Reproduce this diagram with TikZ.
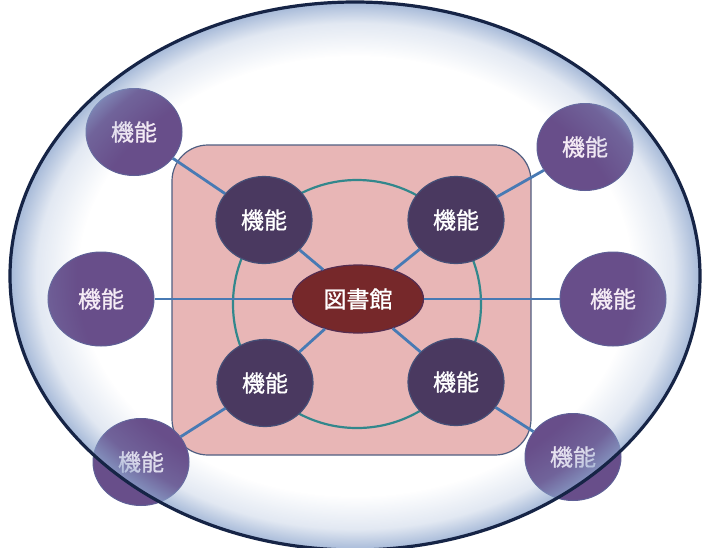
\documentclass[tikz,border=0pt]{standalone}
\usepackage{fontspec}
\newfontfamily\cjk[FakeBold=1]{Noto Sans CJK JP}
\usetikzlibrary{shapes.geometric,fadings}
\definecolor{rimblue}{RGB}{140,165,205}
\definecolor{navy}{RGB}{22,36,70}
\definecolor{pinkfill}{RGB}{232,182,182}
\definecolor{rectborder}{RGB}{80,95,130}
\definecolor{circteal}{RGB}{50,135,140}
\definecolor{linkblue}{RGB}{72,122,180}
\definecolor{innerfill}{RGB}{74,57,96}
\definecolor{innerborder}{RGB}{70,80,120}
\definecolor{outerfill}{RGB}{104,78,138}
\definecolor{outerborder}{RGB}{95,95,150}
\definecolor{centerfill}{RGB}{118,40,42}
\definecolor{centerborder}{RGB}{85,45,80}
\pgfdeclareradialshading{rimshade}{\pgfpointorigin}{color(0bp)=(black); color(20bp)=(black); color(23bp)=(black!75!white); color(25bp)=(white!80!black); color(50bp)=(white!80!black)}
\pgfdeclarefading{rimfade}{\pgfuseshading{rimshade}}
\begin{document}
\begin{tikzpicture}[x=1pt,y=-1pt,
  fn/.style={ellipse, inner sep=0pt, font=\cjk\fontsize{23}{23}\selectfont, text=white},
  innernode/.style={fn, fill=innerfill, draw=innerborder, line width=1.2pt, minimum width=96pt, minimum height=87pt},
  outernode/.style={fn, fill=outerfill, draw=outerborder, line width=1pt, minimum width=96pt, minimum height=87pt, text=white!92!violet},
  bigouter/.style={outernode, minimum width=106pt, minimum height=94pt},
  centernode/.style={fn, fill=centerfill, draw=centerborder, line width=1.2pt, minimum width=131pt, minimum height=68pt},
  link/.style={linkblue, line width=2.8pt}]
\useasboundingbox (0,0) rectangle (707,547);
\begin{scope}
\clip (0,0) rectangle (707,547);
\fill[white] (0,0) rectangle (707,547);
\draw[rectborder, fill=pinkfill, line width=1.2pt, rounded corners=36pt] (172,145) rectangle (531,455);
\draw[circteal, line width=2.2pt] (357,304) circle [radius=124];
\node[centernode] (lib) at (358,299) {図書館};
\node[innernode] (a1) at (264,220) {機能};
\node[innernode] (a2) at (456,220) {機能};
\node[innernode] (a3) at (265,383) {機能};
\node[innernode] (a4) at (456,382) {機能};
\node[outernode] (b1) at (134,132) {機能};
\node[outernode] (b2) at (585,147) {機能};
\node[bigouter] (b3) at (101,299) {機能};
\node[bigouter] (b4) at (613,299) {機能};
\node[outernode] (b5) at (141,462) {機能};
\node[outernode] (b6) at (573,457) {機能};
\draw[link] (lib) -- (a1);
\draw[link] (lib) -- (a2);
\draw[link] (lib) -- (a3);
\draw[link] (lib) -- (a4);
\draw[link] (lib) -- (b3);
\draw[link] (lib) -- (b4);
\draw[link] (a1) -- (b1);
\draw[link] (a2) -- (b2);
\draw[link] (a3) -- (b5);
\draw[link] (a4) -- (b6);
\fill[rimblue, path fading=rimfade, fit fading=true] (355,276) ellipse [x radius=345, y radius=274];
\draw[navy, line width=3.2pt] (355,276) ellipse [x radius=345, y radius=274];
\end{scope}
\end{tikzpicture}
\end{document}
